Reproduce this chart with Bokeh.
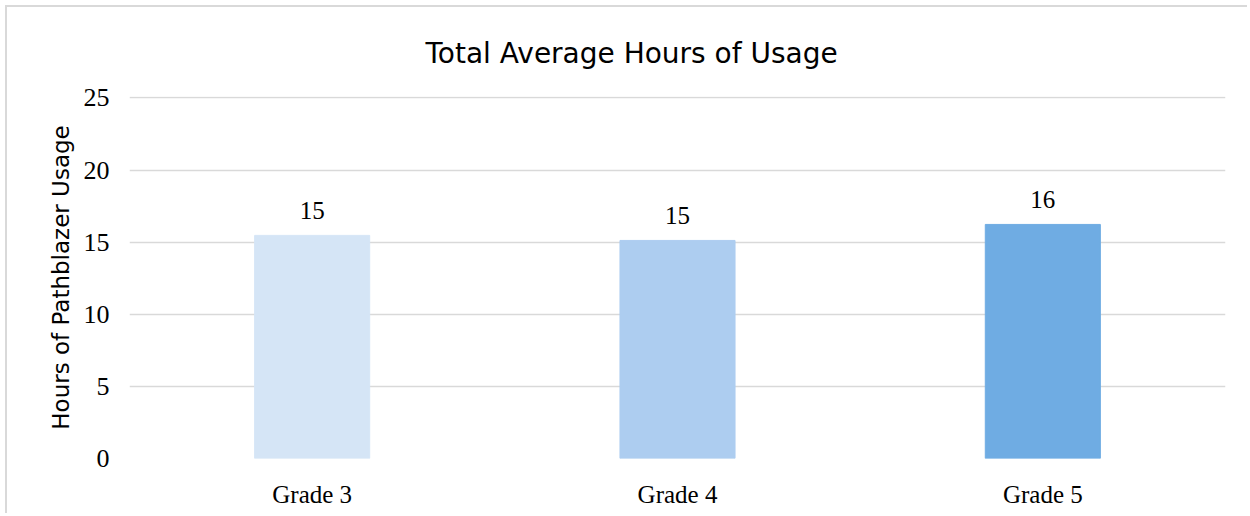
from bokeh.plotting import figure
from bokeh.models import ColumnDataSource, Range1d, FactorRange, LabelSet
from bokeh.embed import file_html
from bokeh.resources import INLINE
from bokeh.core.properties import value

grades = ["Grade 3", "Grade 4", "Grade 5"]
hours = [15.47, 15.12, 16.23]
colors = ["#D5E5F6", "#ADCDF0", "#6FACE3"]
labels = [f"{round(h):d}" for h in hours]
y_ticks = [0, 5, 10, 15, 20, 25]

src = ColumnDataSource(dict(g=grades, h=hours, c=colors, lab=labels))

p = figure(width=1242, height=508, x_range=FactorRange(*grades, range_padding=0),
           y_range=Range1d(0, 25.1), output_backend="svg", toolbar_location=None,
           min_border_left=122, min_border_right=24, min_border_top=88, min_border_bottom=57)
p.styles = {"border-left": "2px solid #d9d9d9", "border-top": "2px solid #d9d9d9",
            "margin-left": "5px", "margin-top": "5px"}

p.title.text = "Total Average Hours of Usage"
p.title.align = "left"
p.title.offset = 296
p.title.text_font = "DejaVu Sans"
p.title.text_font_size = "28px"
p.title.text_font_style = "normal"
p.title.text_color = "#000000"
p.title.standoff = 54

p.vbar(x="g", top="h", width=0.315, color="c", source=src)

p.add_layout(LabelSet(x="g", y="h", text="lab", source=src, text_align="center",
                      y_offset=16, text_font=value("Liberation Serif"),
                      text_font_size="25px", text_color="#000000"))

p.outline_line_color = None
p.xgrid.grid_line_color = None
p.ygrid.grid_line_color = "#d9d9d9"
p.ygrid.grid_line_width = 1.5
p.yaxis.ticker = y_ticks

for ax in (p.xaxis, p.yaxis):
    ax.axis_line_color = None
    ax.major_tick_line_color = None
    ax.minor_tick_line_color = None
    ax.major_label_text_font = "Liberation Serif"
    ax.major_label_text_color = "#000000"

p.yaxis.major_label_text_font_size = "26px"
p.yaxis.major_label_standoff = 14
p.xaxis.major_label_text_font_size = "25px"
p.xaxis.major_label_standoff = 16

p.yaxis.axis_label = "Hours of Pathblazer Usage"
p.yaxis.axis_label_text_font = "DejaVu Sans"
p.yaxis.axis_label_text_font_style = "normal"
p.yaxis.axis_label_text_font_size = "23px"
p.yaxis.axis_label_text_color = "#000000"
p.yaxis.axis_label_standoff = 7

open("out.html", "w").write(file_html(p, INLINE))
